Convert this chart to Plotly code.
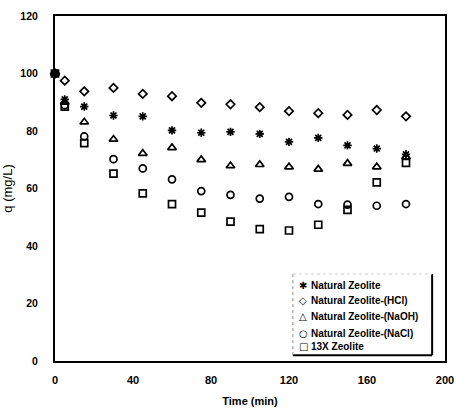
import plotly.graph_objects as go

time = [0, 5, 15, 30, 45, 60, 75, 90, 105, 120, 135, 150, 165, 180]
natural = [100, 91, 88.5, 85.4, 85.1, 80.2, 79.4, 79.7, 79.0, 76.2, 77.6, 75.0, 73.9, 71.9]
natural_hcl = [100, 97.5, 93.8, 95.0, 92.9, 92.1, 89.8, 89.3, 88.3, 86.9, 86.2, 85.6, 87.3, 85.1]
natural_naoh = [100, 90, 83.1, 77.1, 72.2, 74.2, 70.0, 67.9, 68.3, 67.5, 66.7, 68.7, 67.5, 71.0]
natural_nacl = [100, 89, 78.1, 70.2, 67.0, 63.2, 59.1, 57.8, 56.5, 57.1, 54.6, 54.4, 54.0, 54.6]
zeolite_13x = [100, 88.5, 75.8, 65.2, 58.3, 54.6, 51.6, 48.5, 45.9, 45.4, 47.4, 52.6, 62.1, 68.9]

names = ["Natural Zeolite", "Natural Zeolite-(HCl)", "Natural Zeolite-(NaOH)",
         "Natural Zeolite-(NaCl)", "13X Zeolite"]
series = [natural, natural_hcl, natural_naoh, natural_nacl, zeolite_13x]
symbols = ["asterisk-open", "diamond-open", "triangle-up-open", "circle-open", "square-open"]
legend_glyphs = ["\u2731", "\u25C7", "\u25B3", "\u25CB", "\u25A1"]
sizes = [7, 6.5, 7.5, 7, 7]

fig = go.Figure()
for name, ys, sym, sz in zip(names, series, symbols, sizes):
    fig.add_trace(go.Scatter(
        x=time, y=ys, mode="markers", name=name,
        marker=dict(symbol=sym, size=sz, color="black",
                    line=dict(color="black", width=1.7)),
        cliponaxis=False, showlegend=False,
    ))

axis_common = dict(showgrid=False, zeroline=False, showline=True, linecolor="black",
                   linewidth=2, mirror=True, ticks="", automargin=False)

# hand-made legend box (plot area: x 55..445 px, y 16..361 px)
L, R, B, T = 0.610, 0.967, 0.017, 0.252
shapes = [
    dict(type="rect", xref="paper", yref="paper", x0=L, x1=R, y0=B, y1=T,
         fillcolor="white", line=dict(width=0), layer="below"),
    dict(type="line", xref="paper", yref="paper", x0=R, x1=R, y0=B, y1=T,
         line=dict(color="black", width=2)),
    dict(type="line", xref="paper", yref="paper", x0=L, x1=R, y0=B, y1=B,
         line=dict(color="black", width=2)),
    dict(type="line", xref="paper", yref="paper", x0=L, x1=L, y0=B, y1=T,
         line=dict(color="#888888", width=1, dash="dot")),
    dict(type="line", xref="paper", yref="paper", x0=L, x1=R, y0=T, y1=T,
         line=dict(color="#cccccc", width=1, dash="dot")),
]
row_y = [0.220, 0.174, 0.128, 0.081, 0.041]
annotations = []
for glyph, name, yy in zip(legend_glyphs, names, row_y):
    annotations.append(dict(xref="paper", yref="paper", x=0.636, y=yy, text=glyph,
                            showarrow=False, xanchor="center", yanchor="middle",
                            font=dict(family="DejaVu Sans", size=10, color="black")))
    annotations.append(dict(xref="paper", yref="paper", x=0.652, y=yy, text=name,
                            showarrow=False, xanchor="left", yanchor="middle",
                            font=dict(family="Liberation Sans", size=10, color="black",
                                      weight="bold")))

fig.update_layout(
    width=457, height=414,
    margin=dict(l=55, r=12, t=16, b=53),
    paper_bgcolor="white", plot_bgcolor="white",
    showlegend=False,
    shapes=shapes,
    annotations=annotations,
    xaxis=dict(range=[0, 200], tickvals=[0, 40, 80, 120, 160, 200],
               ticklabelstandoff=8,
               tickfont=dict(family="Liberation Sans", size=11, color="black", weight="bold"),
               title=dict(text="Time (min)", standoff=12,
                          font=dict(family="Liberation Sans", size=11, color="black", weight="bold")),
               **axis_common),
    yaxis=dict(range=[0, 120], tickvals=[0, 20, 40, 60, 80, 100, 120],
               ticklabelstandoff=13,
               tickfont=dict(family="Liberation Sans", size=10.5, color="black", weight="bold"),
               title=dict(text="q (mg/L)", standoff=5,
                          font=dict(family="Liberation Sans", size=13, color="black")),
               **axis_common),
)

fig.write_html("out.html")
